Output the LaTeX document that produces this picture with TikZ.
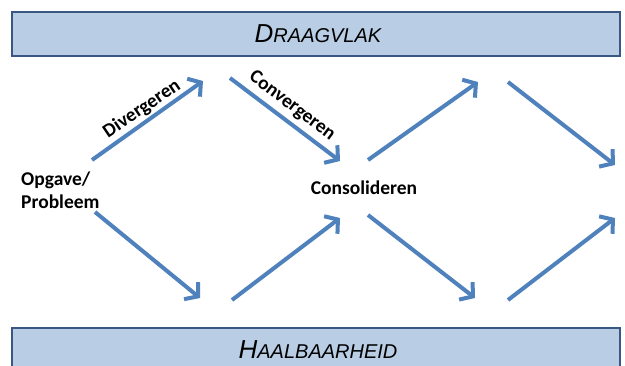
\documentclass[tikz,border=0pt]{standalone}
\usepackage{fontspec}
\setmainfont{Carlito}
\newfontfamily\boxfont{Liberation Sans}
\usetikzlibrary{arrows.meta}
\definecolor{arrowblue}{RGB}{79,129,189}
\definecolor{boxfill}{RGB}{185,205,229}
\definecolor{boxline}{RGB}{56,88,130}

\begin{document}
\begin{tikzpicture}[x=1pt, y=1pt,
		band/.style={draw=boxline, fill=boxfill, line width=1.5pt},
		flow/.style={draw=arrowblue, line width=4pt, -{Straight Barb[length=9pt, width=22pt]}},
		lbl/.style={font=\fontsize{19.5}{23.5}\selectfont\bfseries, inner sep=0pt},
		bandtext/.style={font=\boxfont\itshape, inner sep=0pt}]
	\useasboundingbox (0, 0) rectangle (625, 365);
	\fill[white] (0, 0) rectangle (625, 365);

	% bands
	\draw[band] (12, 309) rectangle (620, 353);
	\node[bandtext] (draagvlak) at (318, 331) {\fontsize{26}{26}\selectfont D\fontsize{20}{20}\selectfont RAAGVLAK};
	\draw[band] (12, -8) rectangle (620, 37);
	\node[bandtext] (haalbaar) at (318, 15) {\fontsize{26}{26}\selectfont H\fontsize{20}{20}\selectfont AALBAARHEID};

	% labels
	\node[lbl, anchor=west, align=left] (opgave) at (21, 175) {Opgave/\\Probleem};
	\node[lbl] (consolideren) at (364, 177) {Consolideren};

	% arrow ends
	\coordinate (p1) at (92, 205);  \coordinate (q1) at (203, 284);
	\coordinate (p2) at (95, 153);  \coordinate (q2) at (200, 67);
	\coordinate (p3) at (230, 287); \coordinate (q3) at (340, 204);
	\coordinate (p4) at (232, 65);  \coordinate (q4) at (340, 147);
	\coordinate (p5) at (368, 205); \coordinate (q5) at (478, 283);
	\coordinate (p6) at (368, 150); \coordinate (q6) at (475, 67);
	\coordinate (p7) at (508, 283); \coordinate (q7) at (615, 200);
	\coordinate (p8) at (508, 65);  \coordinate (q8) at (615, 147);

	\foreach \i in {1,...,8}
		\draw[flow] (p\i) -- (q\i);

	\node[lbl, rotate=34] (divergeren) at (142, 256) {Divergeren};
	\node[lbl, rotate=-37] (convergeren) at (292, 259) {Convergeren};
\end{tikzpicture}
\end{document}
